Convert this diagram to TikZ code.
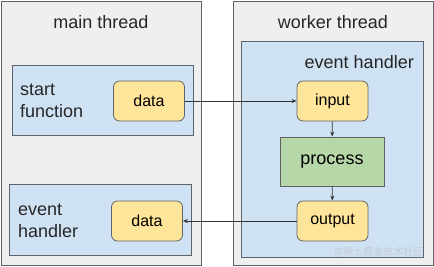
\documentclass[tikz,border=0pt]{standalone}
\usepackage{fontspec}
\setmainfont{Liberation Sans}
\newfontfamily\cjk{Noto Sans CJK SC}
\usetikzlibrary{arrows.meta}
\definecolor{threadgray}{HTML}{EFEFEF}
\definecolor{edgegray}{HTML}{5F6368}
\definecolor{handlerblue}{HTML}{CFE2F3}
\definecolor{datayellow}{HTML}{FFE599}
\definecolor{processgreen}{HTML}{B6D7A8}
\definecolor{marktext}{HTML}{C3CAD2}
\begin{document}
\begin{tikzpicture} [x = 1pt, y = -1pt,
	thread/.style = {draw = edgegray, fill = threadgray, line width = 1pt, inner sep = 0pt},
	handler/.style = {draw = edgegray, fill = handlerblue, line width = 1pt, inner sep = 0pt},
	databox/.style = {draw = edgegray, fill = datayellow, line width = 0.8pt, rounded corners = 6pt,
		minimum width = 71pt, minimum height = 40pt, font = \fontsize{16}{19}\selectfont},
	procbox/.style = {draw = edgegray, fill = processgreen, line width = 0.8pt,
		minimum width = 104pt, minimum height = 49pt, font = \fontsize{18}{22}\selectfont},
	label/.style = {text = black!85, font = \fontsize{18}{22}\selectfont, inner sep = 0pt},
	link/.style = {draw = black!80, line width = 0.7pt, -{Stealth[length = 5pt, width = 4pt]}}]
	\useasboundingbox (0,0) rectangle (434,266);
	% threads
	\node [thread, minimum width = 200pt, minimum height = 264pt] (main) at (101,133) {};
	\node [thread, minimum width = 200pt, minimum height = 264pt] (worker) at (333,133) {};
	\node [label] (maintitle) at (101,22) {main thread};
	\node [label] (workertitle) at (333,22) {worker thread};
	% main thread
	\node [handler, minimum width = 181pt, minimum height = 70pt] (start) at (102.5,100) {};
	\node [label, anchor = west, align = left] (startlabel) at (20,101) {start\\function};
	\node [databox] (senddata) at (149,101) {data};
	\node [handler, minimum width = 182pt, minimum height = 71pt] (mainhandler) at (100,219.5) {};
	\node [label, anchor = west, align = left] (mainhandlerlabel) at (18,221) {event\\handler};
	\node [databox] (getdata) at (147,221) {data};
	% worker thread
	\node [handler, minimum width = 182pt, minimum height = 216pt] (workerhandler) at (332,149) {};
	\node [label, anchor = east] (workerhandlerlabel) at (414,62) {event handler};
	\node [databox] (input) at (332.5,101) {input};
	\node [procbox] (process) at (332,161.5) {process};
	\node [databox] (output) at (332.5,221) {output};
	% messages
	\draw [link] (senddata) -- (input);
	\draw [link] (input) -- (process);
	\draw [link] (process) -- (output);
	\draw [link] (output) -- (getdata);
	\node [text = marktext, font = \cjk\fontsize{10}{12}\selectfont, anchor = east] (mark) at (427,252) {@稀土掘金技术社区};
\end{tikzpicture}
\end{document}
